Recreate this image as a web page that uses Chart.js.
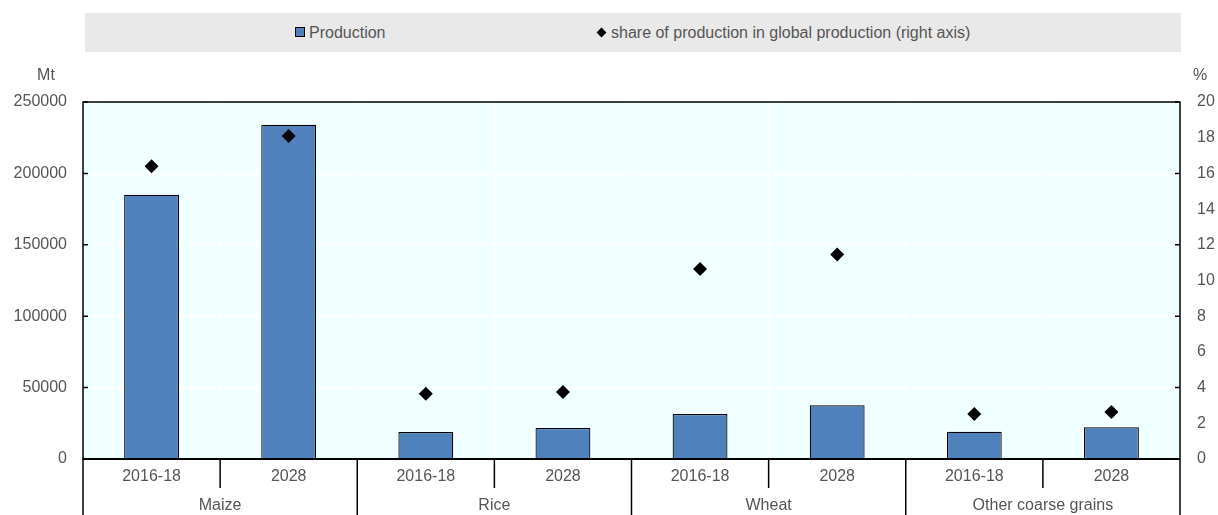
<!DOCTYPE html>
<html>
<head>
<meta charset="utf-8">
<script src="https://cdn.jsdelivr.net/npm/chart.js@4"></script>
<style>
  body { margin: 0; background: #fff; font-family: "Liberation Sans", Arial, sans-serif; }
  #wrap { position: relative; width: 1218px; height: 515px; }
  #legend { position: absolute; left: 85px; top: 13px; width: 1096px; height: 39px; background: #e9e9e9; }
  .item { position: absolute; top: 10px; font-size: 16px; color: #555; line-height: 19px; }
  .sq { display: inline-block; width: 8px; height: 8px; background: #4f81bd; border: 1px solid #000; margin-right: 4px; vertical-align: 1px; }
  .dm { display: inline-block; width: 7px; height: 7px; background: #000; transform: rotate(45deg); margin-right: 6px; margin-left: 2px; vertical-align: 2px; }
  canvas { position: absolute; left: 0; top: 0; }
</style>
</head>
<body>
<div id="wrap">
  <canvas id="c" width="1218" height="515"></canvas>
  <div id="legend">
    <div class="item" style="left:210px"><span class="sq"></span>Production</div>
    <div class="item" style="left:511px"><span class="dm"></span>share of production in global production (right axis)</div>
  </div>
</div>
<script>
// data van de grafiek
var categories = ['2016-18', '2028', '2016-18', '2028', '2016-18', '2028', '2016-18', '2028'];
var groups = ['Maize', 'Rice', 'Wheat', 'Other coarse grains'];
var production = [185000, 234000, 18900, 21700, 31500, 37600, 19100, 22200];
var share = [16.4, 18.1, 3.65, 3.75, 10.65, 11.45, 2.52, 2.63];

var textColor = '#555555';
var font = { family: '"Liberation Sans", Arial, sans-serif', size: 16 };

// plugin voor achtergrond, kader, groepslabels en as-titels
var extras = {
    id: 'extras',
    beforeDraw: function (chart) {
        var a = chart.chartArea;
        var ctx = chart.ctx;
        ctx.save();
        ctx.fillStyle = '#f0ffff';
        ctx.fillRect(a.left, a.top, a.right - a.left, a.bottom - a.top);
        ctx.restore();
    },
    afterDraw: function (chart) {
        var a = chart.chartArea;
        var ctx = chart.ctx;
        var y = chart.scales.y;
        var step = (a.right - a.left) / categories.length;
        ctx.save();
        ctx.strokeStyle = '#000';
        ctx.lineWidth = 1.5;
        ctx.strokeRect(a.left, a.top, a.right - a.left, a.bottom - a.top);
        ctx.lineWidth = 2;
        ctx.beginPath();
        ctx.moveTo(a.left, a.bottom);
        ctx.lineTo(a.right, a.bottom);
        ctx.stroke();

        // tick streepjes naar binnen
        ctx.lineWidth = 1.5;
        y.ticks.forEach(function (t) {
            var py = y.getPixelForValue(t.value);
            ctx.beginPath();
            ctx.moveTo(a.left, py); ctx.lineTo(a.left + 5, py);
            ctx.moveTo(a.right, py); ctx.lineTo(a.right - 5, py);
            ctx.stroke();
        });

        // scheidingslijnen onder de as
        for (var k = 0; k <= categories.length; k++) {
            var px = a.left + k * step;
            ctx.beginPath();
            ctx.moveTo(px, a.bottom);
            ctx.lineTo(px, k % 2 == 0 ? chart.height : a.bottom + 29);
            ctx.stroke();
        }

        // groepslabels
        ctx.fillStyle = textColor;
        ctx.font = '16px ' + font.family;
        ctx.textAlign = 'center';
        ctx.textBaseline = 'middle';
        groups.forEach(function (g, i) {
            ctx.fillText(g, a.left + (2 * i + 1) * step, a.bottom + 47);
        });

        // as-titels
        ctx.fillText('Mt', 46, 76);
        ctx.fillText('%', 1200, 76);
        ctx.restore();
    }
};

var chart = new Chart(document.getElementById('c'), {
    type: 'bar',
    data: {
        labels: categories,
        datasets: [
            {
                type: 'line',
                label: 'share of production in global production (right axis)',
                data: share,
                yAxisID: 'y1',
                showLine: false,
                pointStyle: 'rectRot',
                pointRadius: 7,
                pointBackgroundColor: '#000',
                pointBorderColor: '#000',
                pointBorderWidth: 0
            },
            {
                label: 'Production',
                data: production,
                yAxisID: 'y',
                backgroundColor: '#4f81bd',
                borderColor: '#000',
                borderWidth: 1.2,
                barPercentage: 0.4,
                categoryPercentage: 1
            }
        ]
    },
    plugins: [extras],
    options: {
        responsive: false,
        animation: false,
        layout: { padding: { top: 102, right: 0, left: 0, bottom: 0 } },
        plugins: { legend: { display: false }, tooltip: { enabled: false } },
        scales: {
            x: {
                offset: true,
                grid: { color: '#ffffff', lineWidth: 1.5, offset: true, drawTicks: false },
                border: { display: false },
                ticks: { color: textColor, font: font, padding: 8, maxRotation: 0 },
                afterFit: function (s) { s.height = 56; }
            },
            y: {
                position: 'left',
                min: 0, max: 250000,
                ticks: {
                    stepSize: 50000, color: textColor, font: font, padding: 16,
                    callback: function (v) { return String(v); } // geen duizendtal-komma's
                },
                grid: { color: '#ffffff', lineWidth: 1.5, drawTicks: false },
                border: { display: false },
                afterFit: function (s) { s.width = 83; }
            },
            y1: {
                position: 'right',
                min: 0, max: 20,
                ticks: { stepSize: 2, color: textColor, font: font, padding: 17 },
                grid: { display: false, drawTicks: false },
                border: { display: false },
                afterFit: function (s) { s.width = 38; }
            }
        }
    }
});
</script>
</body>
</html>
